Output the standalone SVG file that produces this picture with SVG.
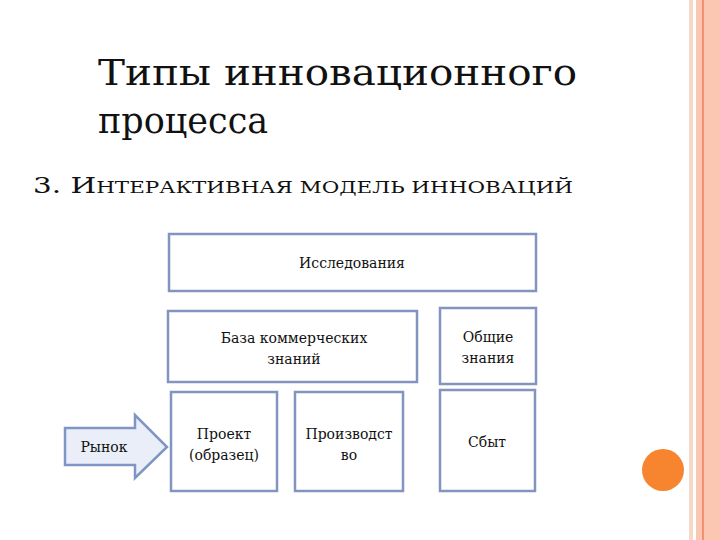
<svg xmlns="http://www.w3.org/2000/svg" width="720" height="540" viewBox="0 0 720 540">
<style>
.b{fill:#fff;stroke:#8394c0;stroke-width:2.5}
.t{font-family:'DejaVu Serif',serif;fill:#111;font-size:14px;text-anchor:middle}
.h{font-family:'DejaVu Serif',serif;fill:#111}
</style>
<rect width="720" height="540" fill="#fff"/>
<rect x="689" y="0" width="4" height="540" fill="#f7d8c8"/>
<rect x="696" y="0" width="24" height="540" fill="#fbc7b2"/>
<rect x="702" y="0" width="2" height="540" fill="#f29070"/>
<circle cx="663" cy="470" r="21" fill="#f7842f"/>
<text class="h" x="98" y="85" font-size="35" textLength="479" lengthAdjust="spacingAndGlyphs">Типы инновационного</text>
<text class="h" x="98" y="133" font-size="35">процесса</text>
<text class="h" x="33" y="193" font-size="22" textLength="540" lengthAdjust="spacingAndGlyphs">3. И<tspan font-size="16">НТЕРАКТИВНАЯ МОДЕЛЬ ИННОВАЦИЙ</tspan></text>
<g id="n1"><rect class="b" x="169" y="234" width="367" height="57"/><text class="t" x="352" y="268">Исследования</text></g>
<g id="n2"><rect class="b" x="168" y="311" width="249" height="71"/><text class="t" x="294" y="343">База коммерческих</text><text class="t" x="294" y="364">знаний</text></g>
<g id="n3"><rect class="b" x="440" y="308" width="96" height="76"/><text class="t" x="488" y="342">Общие</text><text class="t" x="488" y="363">знания</text></g>
<g id="n4"><rect class="b" x="171" y="392" width="106" height="99"/><text class="t" x="224" y="439">Проект</text><text class="t" x="224" y="460">(образец)</text></g>
<g id="n5"><rect class="b" x="295" y="392" width="108" height="99"/><text class="t" x="349" y="439">Производст</text><text class="t" x="349" y="460">во</text></g>
<g id="n6"><rect class="b" x="440" y="390" width="95" height="101"/><text class="t" x="487" y="447">Сбыт</text></g>
<g id="connectors"><g id="n0"><path d="M65,428H135V415L167,447L135,478V465H65Z" fill="#e9eef8" stroke="#7f95c4" stroke-width="2.5"/><text class="t" x="104" y="452">Рынок</text></g></g>
</svg>
